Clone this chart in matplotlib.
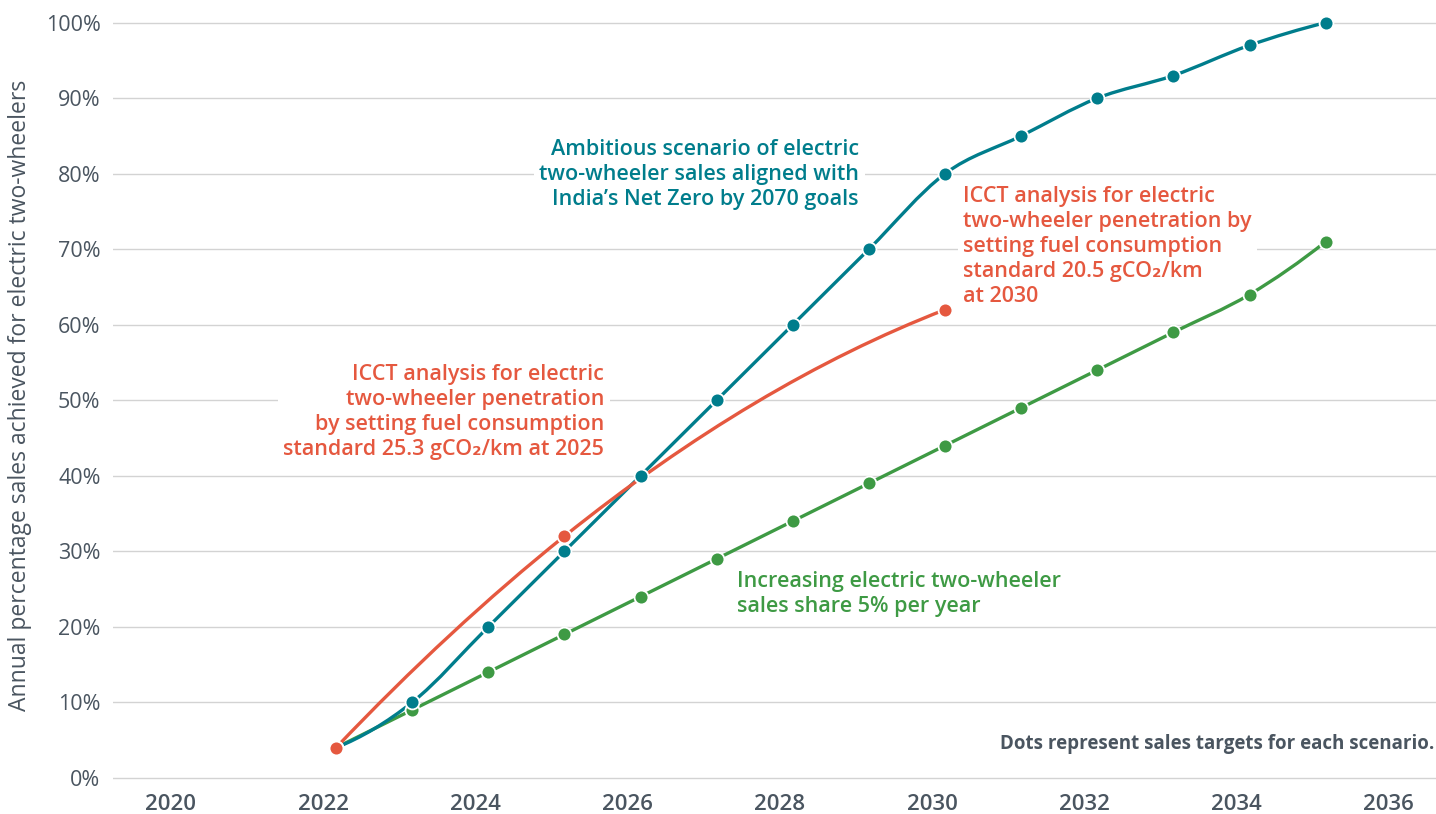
import numpy as np
import matplotlib
matplotlib.use("Agg")
import matplotlib.pyplot as plt
from matplotlib.path import Path
from matplotlib.patches import PathPatch

plt.rcParams['font.family'] = ['Open Sans', 'DejaVu Sans']

# data (percent of annual sales)
years = [2022, 2023, 2024, 2025, 2026, 2027, 2028, 2029, 2030, 2031, 2032, 2033, 2034, 2035]
ambitious = [4, 10, 20, 30, 40, 50, 60, 70, 80, 85, 90, 93, 97, 100]
five_pct = [4, 9, 14, 19, 24, 29, 34, 39, 44, 49, 54, 59, 64, 71]
icct_years = [2022, 2025, 2030]
icct = [4, 32, 62]

tick_years = list(range(2020, 2037, 2))
pct_ticks = list(range(0, 101, 10))

TEAL = '#007d8c'
RED = '#e5583f'
GREEN = '#3e9a44'
GREY = '#4a5560'


def smooth_path(xs, ys):
    # cubic hermite through the points, drawn as bezier segments
    x = np.asarray(xs, float)
    y = np.asarray(ys, float)
    n = len(x)
    h = np.diff(x)
    d = np.diff(y) / h
    m = np.zeros(n)
    for i in range(1, n - 1):
        m[i] = (d[i - 1] * h[i] + d[i] * h[i - 1]) / (h[i - 1] + h[i])
    m[0] = 2 * d[0] - m[1]
    m[-1] = 2 * d[-1] - m[-2]
    verts = [(x[0], y[0])]
    codes = [Path.MOVETO]
    for i in range(n - 1):
        k = h[i] / 3
        verts += [(x[i] + k, y[i] + k * m[i]), (x[i + 1] - k, y[i + 1] - k * m[i + 1]), (x[i + 1], y[i + 1])]
        codes += [Path.CURVE4] * 3
    return Path(verts, codes)


fig = plt.figure(figsize=(14.36, 8.14), dpi=100)
ax = fig.add_axes([113 / 1436, 21 / 814, 1323 / 1436, 793 / 814])

series = [(years, five_pct, GREEN), (years, ambitious, TEAL), (icct_years, icct, RED)]
for xs, ys, c in series:
    ax.add_patch(PathPatch(smooth_path(xs, ys), fill=False, edgecolor=c, lw=2.4,
                           capstyle='round', joinstyle='round', zorder=3))
for xs, ys, c in series:
    ax.plot(xs, ys, 'o', color=c, ms=10, mec='white', mew=1.3, zorder=4)

ax.set_xlim(2019.07, 2036.45)
ax.set_ylim(-2, 103)
ax.set_xticks([y - 0.17 for y in tick_years])
ax.set_xticklabels([str(y) for y in tick_years])
ax.set_yticks(pct_ticks)
ax.set_yticklabels([f'{p}%' for p in pct_ticks])
ax.grid(axis='y', color='#d3d3d3', lw=1)
ax.set_axisbelow(True)
for s in ax.spines.values():
    s.set_visible(False)
ax.tick_params(axis='both', length=0)
ax.tick_params(axis='y', pad=9, labelsize=15.5, labelcolor=GREY)
ax.tick_params(axis='x', pad=1, labelsize=16, labelcolor=GREY)
for t in ax.get_xticklabels():
    t.set_fontweight('semibold')

box = dict(facecolor='white', edgecolor='none', pad=4)
kw = dict(va='center', fontsize=15.5, fontweight='semibold', linespacing=1.25, bbox=box, zorder=1)
ax.text(2028.87, 79.9, "Ambitious scenario of electric\ntwo-wheeler sales aligned with\nIndia\u2019s Net Zero by 2070 goals",
        ha='right', multialignment='right', color=TEAL, **kw)
ax.text(2025.52, 48.5, "ICCT analysis for electric\ntwo-wheeler penetration\nby setting fuel consumption\nstandard 25.3 gCO\u2082/km at 2025",
        ha='right', multialignment='right', color=RED, **kw)
ax.text(2030.24, 70.3, "ICCT analysis for electric\ntwo-wheeler penetration by\nsetting fuel consumption\nstandard 20.5 gCO\u2082/km\nat 2030",
        ha='left', multialignment='left', color=RED, **kw)
ax.text(2027.27, 24.4, "Increasing electric two-wheeler\nsales share 5% per year",
        ha='left', multialignment='left', color=GREEN, **kw)
ax.text(2036.43, 4.5, "Dots represent sales targets for each scenario.",
        ha='right', va='center', color=GREY, fontsize=13.5, fontweight='bold')

fig.text(20 / 1436, 1 - 395 / 814, "Annual percentage sales achieved for electric two-wheelers",
         rotation=90, ha='center', va='center', color=GREY, fontsize=16.5)

fig.savefig('out.png', dpi=100)
